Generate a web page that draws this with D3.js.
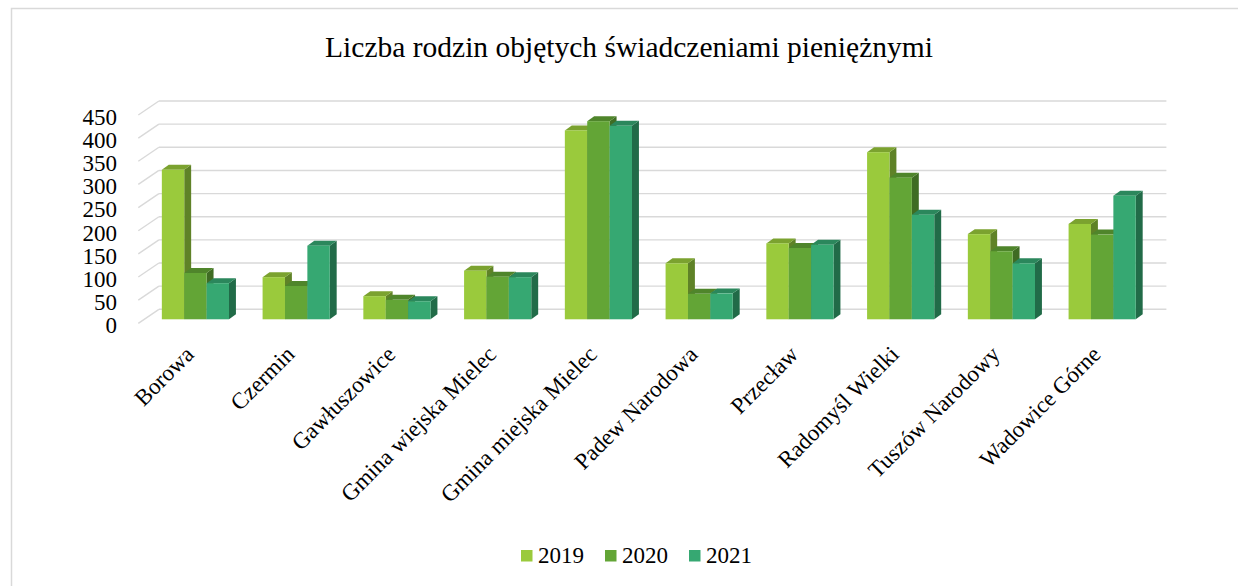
<!DOCTYPE html>
<html>
<head>
<meta charset="utf-8">
<script src="https://cdn.jsdelivr.net/npm/d3@7"></script>
<style>
  html, body { margin: 0; padding: 0; background: #ffffff; }
  svg { display: block; }
  text { font-family: "Liberation Serif", "Times New Roman", serif; fill: #000; }
</style>
</head>
<body>
<svg id="chart" width="1238" height="586"></svg>
<script>
// ---- data ----
const title = "Liczba rodzin objętych świadczeniami pieniężnymi";
const categories = ["Borowa", "Czermin", "Gawłuszowice", "Gmina wiejska Mielec", "Gmina miejska Mielec",
  "Padew Narodowa", "Przecław", "Radomyśl Wielki", "Tuszów Narodowy", "Wadowice Górne"];
const seriesNames = ["2019", "2020", "2021"];
const values2019 = [323, 91, 50, 105, 408, 121, 164, 361, 184, 206];
const values2020 = [100, 72, 42, 92, 428, 55, 154, 306, 147, 183];
const values2021 = [78, 159, 39, 91, 418, 56, 161, 226, 121, 267];
const tickValues = [0, 50, 100, 150, 200, 250, 300, 350, 400, 450];

// colours: front, top, side
const frontColors = ["#9aca3c", "#63a536", "#36a872"];
const topColors   = ["#7ba22f", "#4f852b", "#2b875c"];
const sideColors  = ["#5f8227", "#3f6c23", "#216b48"];

const seriesValues = [values2019, values2020, values2021];
const FONT = '"Liberation Serif", "Times New Roman", serif';

// ---- layout ----
const svg = d3.select("#chart");

// chart frame
svg.append("rect")
  .attr("x", 11.5).attr("y", 8.5)
  .attr("width", 1400).attr("height", 800)
  .attr("fill", "none").attr("stroke", "#d9d9d9").attr("stroke-width", 1.5);

// title
svg.append("text")
  .attr("x", 629).attr("y", 57)
  .attr("text-anchor", "middle")
  .attr("font-family", FONT)
  .style("font-size", "29.5px")
  .text(title);

// 3D geometry (oblique projection)
const x0 = 139.5, x1 = 1147;           // front plane extent
const DX = 19.4, DY = -14;             // depth vector (front -> back wall)
const fa = 0.286, fb = 0.643;          // bar depth fractions

const y = d3.scaleLinear().domain([0, 450]).range([323.3, 115]);
const xBand = d3.scaleBand().domain(categories).range([x0, x1])
  .paddingInner(1/3).paddingOuter(1/6);
const xSub = d3.scaleBand().domain(seriesNames).range([0, xBand.bandwidth()]).padding(0);

// gridlines: back wall + left side wall diagonals
const grid = svg.append("g");
tickValues.forEach(v => {
  const yf = y(v);
  grid.append("line")
    .attr("x1", x0 + DX).attr("x2", x1 + DX)
    .attr("y1", yf + DY).attr("y2", yf + DY)
    .attr("stroke", "#d9d9d9").attr("stroke-width", 1.4);
  grid.append("line")
    .attr("x1", x0 - 1.2).attr("y1", yf)
    .attr("x2", x0 + DX).attr("y2", yf + DY)
    .attr("stroke", "#d9d9d9").attr("stroke-width", 1.4);
});

// y axis labels
const yAxis = d3.axisLeft(y).tickValues(tickValues).tickFormat(d3.format("d"))
  .tickSize(0).tickPadding(0);
const gy = svg.append("g").attr("transform", "translate(117,2)").call(yAxis)
  .attr("font-family", FONT).attr("font-size", 23);
gy.select(".domain").remove();
gy.selectAll("text").style("font-size", "23px")
  .style("font-family", FONT).attr("fill", "#000");

// bars
const bars = svg.append("g");
const ddx = (fb - fa) * DX, ddy = (fb - fa) * DY;
categories.forEach((c, ci) => {
  seriesNames.forEach((s, si) => {
    const v = seriesValues[si][ci];
    const xL = xBand(c) + xSub(s) + fa * DX;
    const xR = xL + xSub.bandwidth();
    const yT = y(v) + fa * DY;
    const yB = y(0) + fa * DY;
    const pts = a => a.map(p => p.join(",")).join(" ");
    // side face
    bars.append("polygon")
      .attr("points", pts([[xR, yT], [xR + ddx, yT + ddy], [xR + ddx, yB + ddy], [xR, yB]]))
      .attr("fill", sideColors[si]);
    // top face
    bars.append("polygon")
      .attr("points", pts([[xL, yT], [xR, yT], [xR + ddx, yT + ddy], [xL + ddx, yT + ddy]]))
      .attr("fill", topColors[si]);
    // front face
    bars.append("rect")
      .attr("x", xL).attr("y", yT)
      .attr("width", xR - xL).attr("height", yB - yT)
      .attr("fill", frontColors[si]);
  });
});

// category labels (rotated -45)
const gx = svg.append("g");
categories.forEach(c => {
  const cx = xBand(c) + xBand.bandwidth() / 2 + fa * DX;
  gx.append("text")
    .attr("transform", `translate(${cx - 6},${350}) rotate(-45)`)
    .attr("text-anchor", "end")
    .attr("dy", "0.35em")
    .attr("font-family", FONT)
    .style("font-size", "23px")
    .text(c);
});

// legend
const legend = svg.append("g");
let lx = 521;
const ly = 550;
seriesNames.forEach((s, i) => {
  legend.append("rect")
    .attr("x", lx).attr("y", ly)
    .attr("width", 11.5).attr("height", 11.5)
    .attr("fill", frontColors[i]);
  const t = legend.append("text")
    .attr("x", lx + 17).attr("y", ly + 13)
    .attr("font-family", FONT)
    .style("font-size", "23px")
    .text(s);
  lx += 17 + t.node().getComputedTextLength() + 21;
});
</script>
</body>
</html>
